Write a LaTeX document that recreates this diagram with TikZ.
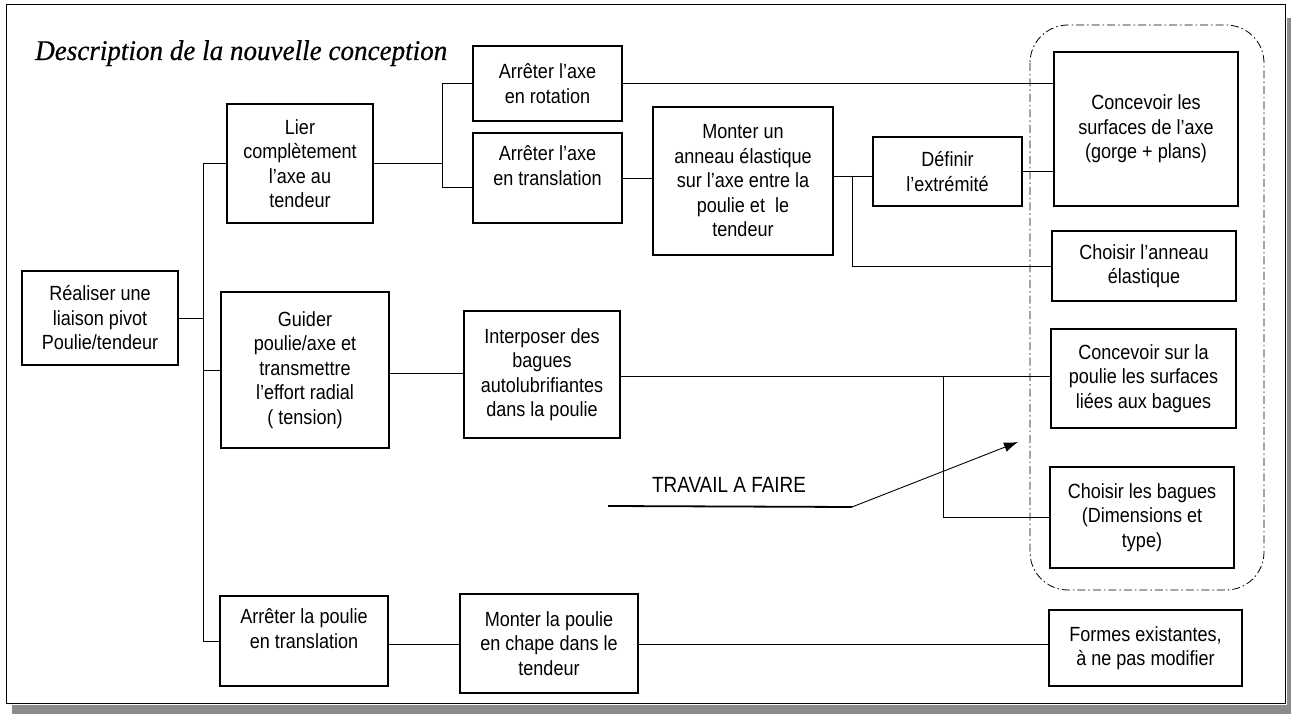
\documentclass[tikz,border=0pt]{standalone}
\usepackage{fontspec}
\setmainfont{Liberation Sans}[FakeStretch=0.88]
\newfontfamily\titlefont{Liberation Serif}[FakeStretch=0.95,FakeBold=0.5]
\newfontfamily\travfont{Liberation Sans}[FakeStretch=0.86]
\usetikzlibrary{arrows.meta}
\newcommand{\mybox}[6]{\node[box, minimum width={(#4-#2)*1pt}, minimum height={(#5-#3)*1pt}] (#1) at ({(#2+#4)/2},{(#3+#5)/2}) {#6};}
\begin{document}
\begin{tikzpicture}[x=1pt,y=-1pt,
  box/.style={draw, line width=1.1pt, align=center, inner sep=0pt, font=\fontsize{20.5}{24.5}\selectfont},
  link/.style={line width=0.8pt},
  framestyle/.style={line width=1pt},
  zone/.style={line width=0.8pt, dash pattern=on 8pt off 3pt on 1.5pt off 3pt, rounded corners=38pt},
  noise/.style={fill=black!45}
]
\useasboundingbox (0,0) rectangle (1291,714);
\fill[noise] (1287,18) rectangle (1291,714);
\fill[noise] (12,705) rectangle (1291,714);
\draw[framestyle] (6,5) rectangle (1285,703);

\node[font=\titlefont\itshape\fontsize{28.5}{30}\selectfont, anchor=base west, inner sep=0pt] (title) at (35,60) {Description de la nouvelle conception};

\mybox{realiser}{22}{271}{178}{365}{Réaliser une\\liaison pivot\\Poulie/tendeur}
\mybox{lier}{227}{104}{373}{223}{Lier\\complètement\\l'axe au\\tendeur}
\mybox{guider}{221}{292}{389}{448}{Guider\\poulie/axe et\\transmettre\\l'effort radial\\( tension)}
\mybox{poulie}{220}{596}{388}{686}{Arrêter la poulie\\en translation\\\mbox{}}
\mybox{rot}{473}{46}{622}{121}{Arrêter l'axe\\en rotation}
\mybox{trans}{473}{133}{622}{223}{Arrêter l'axe\\en translation\\\mbox{}}
\mybox{monter}{653}{107}{833}{255}{Monter un\\anneau élastique\\sur l'axe entre la\\poulie et\ \ le\\tendeur}
\mybox{def}{873}{137}{1022}{206}{Définir\\l'extrémité}
\mybox{conc}{1054}{52}{1238}{206}{Concevoir les\\surfaces de l'axe\\(gorge + plans)}
\mybox{anneau}{1052}{231}{1236}{301}{Choisir l'anneau\\élastique}
\mybox{surfp}{1051}{329}{1236}{428}{Concevoir sur la\\poulie les surfaces\\liées aux bagues}
\mybox{bagues}{1050}{467}{1234}{568}{Choisir les bagues\\(Dimensions et\\type)}
\mybox{interp}{464}{311}{620}{438}{Interposer des\\bagues\\autolubrifiantes\\dans la poulie}
\mybox{chape}{460}{594}{638}{693}{Monter la poulie\\en chape dans le\\tendeur}
\mybox{formes}{1049}{610}{1242}{686}{Formes existantes,\\à ne pas modifier}

\draw[zone] (1030,25) rectangle (1264,590);

% connectors
\coordinate (trunk) at (203,0);
\draw[link] (realiser.east) -- (realiser.east -| trunk);
\draw[link] (lier.west) -- (lier.west -| trunk) -- (poulie.west -| trunk) -- (poulie.west);
\draw[link] (guider.west -| trunk) -- (guider.west);

\coordinate (br) at (442,0);
\coordinate (tw) at ([yshift=-9pt]trans.west);
\draw[link] (lier.east) -- (lier.east -| br);
\draw[link] (rot.west) -- (rot.west -| br) -- (tw -| br) -- (tw);

\draw[link] (rot.east) -- (rot.east -| conc.west);
\draw[link] (trans.east) -- (trans.east -| monter.west);
\coordinate (mj) at (852,176);
\draw[link] (monter.east |- mj) -- (def.west |- mj);
\draw[link] (mj) |- (anneau.west);
\draw[link] (def.east) -- (def.east -| conc.west);

\coordinate (gl) at (0,373);
\draw[link] (guider.east |- gl) -- (interp.west |- gl);
\coordinate (ij) at (943,376);
\draw[link] (interp.east |- ij) -- (surfp.west |- ij);
\draw[link] (ij) |- (bagues.west);

\coordinate (pl) at (0,644);
\draw[link] (poulie.east |- pl) -- (chape.west |- pl);
\draw[link] (chape.east |- pl) -- (formes.west |- pl);

% travail a faire
\node[font=\travfont\fontsize{22}{24}\selectfont, inner sep=0pt] (travail) at (729,485) {TRAVAIL A FAIRE};
\coordinate (ul1) at (608,506);
\coordinate (ul2) at (852,507);
\coordinate (tip) at (1018,442);
\draw[line width=1.8pt] (ul1) -- (ul2);
\draw[line width=0.9pt, -{Latex[length=14pt,width=10pt]}] (ul2) -- (tip);
\end{tikzpicture}
\end{document}
